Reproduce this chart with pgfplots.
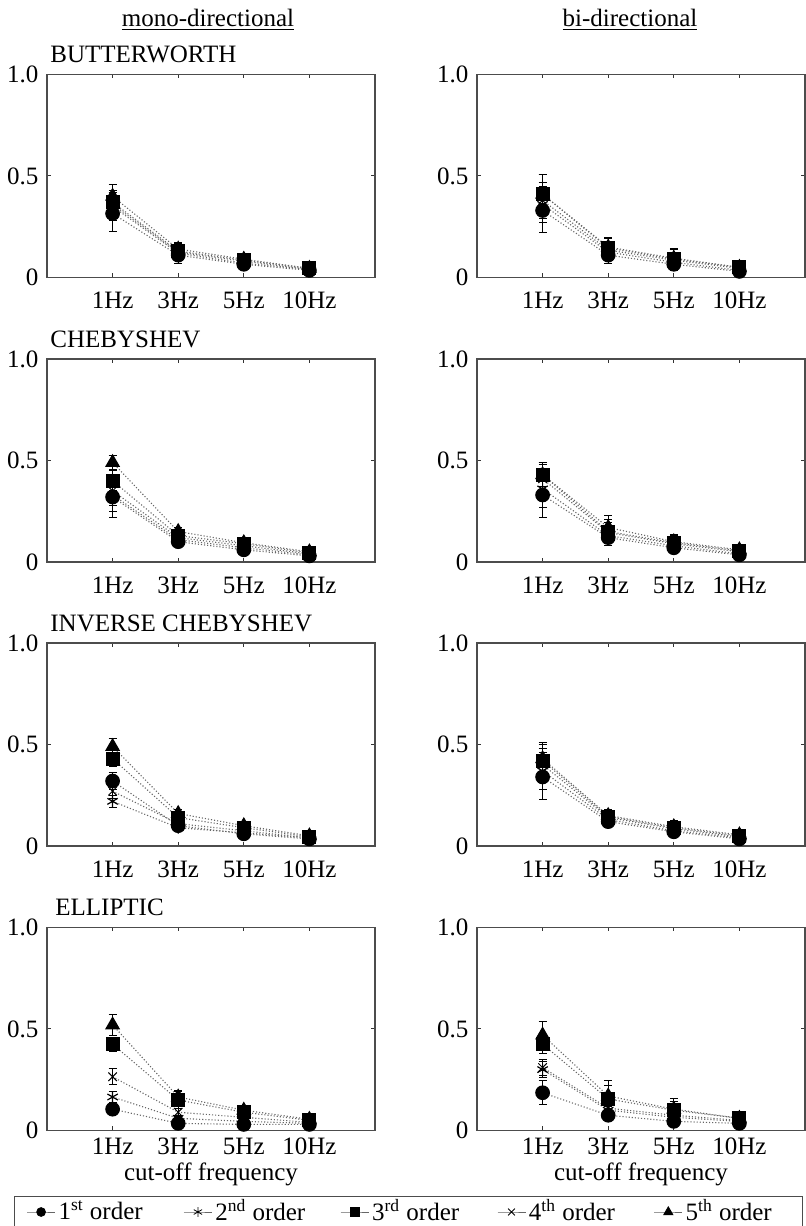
\documentclass[border=0pt]{standalone}
\usepackage{fontspec}
\setmainfont{Liberation Serif}
\usepackage{pgfplots}
\usepackage{pgfplotstable}
\pgfplotsset{compat=1.18}

% Butterworth mono
\pgfplotstableread{
x y1 e1 y2 e2 y3 e3 y4 e4 y5 e5
1 0.315 0.09 0.35 0.07 0.37 0.06 0.36 0.06 0.40 0.06
2 0.11 0.04 0.12 0.03 0.13 0.04 0.125 0.03 0.14 0.035
3 0.065 0.02 0.07 0.02 0.085 0.02 0.08 0.02 0.09 0.02
4 0.035 0.01 0.04 0.01 0.045 0.01 0.04 0.01 0.045 0.01
}\tA
% Butterworth bi
\pgfplotstableread{
x y1 e1 y2 e2 y3 e3 y4 e4 y5 e5
1 0.33 0.11 0.36 0.09 0.41 0.10 0.38 0.09 0.41 0.10
2 0.11 0.04 0.125 0.04 0.145 0.045 0.135 0.04 0.15 0.045
3 0.065 0.03 0.075 0.03 0.09 0.05 0.085 0.04 0.095 0.05
4 0.03 0.02 0.035 0.02 0.05 0.03 0.045 0.03 0.05 0.03
}\tB
% Chebyshev mono
\pgfplotstableread{
x y1 e1 y2 e2 y3 e3 y4 e4 y5 e5
1 0.32 0.10 0.33 0.08 0.40 0.05 0.35 0.07 0.49 0.035
2 0.10 0.02 0.11 0.02 0.13 0.025 0.12 0.02 0.15 0.02
3 0.06 0.015 0.07 0.015 0.09 0.02 0.08 0.015 0.095 0.02
4 0.03 0.01 0.035 0.01 0.045 0.015 0.04 0.01 0.05 0.015
}\tC
% Chebyshev bi
\pgfplotstableread{
x y1 e1 y2 e2 y3 e3 y4 e4 y5 e5
1 0.33 0.11 0.36 0.09 0.43 0.06 0.41 0.07 0.43 0.06
2 0.12 0.04 0.13 0.04 0.15 0.06 0.145 0.05 0.17 0.06
3 0.07 0.02 0.08 0.02 0.095 0.035 0.09 0.03 0.10 0.035
4 0.035 0.015 0.04 0.015 0.055 0.02 0.05 0.02 0.06 0.02
}\tD
% Inverse Chebyshev mono
\pgfplotstableread{
x y1 e1 y2 e2 y3 e3 y4 e4 y5 e5
1 0.32 0.04 0.22 0.03 0.43 0.04 0.27 0.035 0.49 0.04
2 0.10 0.02 0.09 0.02 0.14 0.025 0.11 0.02 0.16 0.02
3 0.06 0.015 0.065 0.015 0.09 0.02 0.075 0.015 0.10 0.02
4 0.035 0.01 0.04 0.01 0.045 0.015 0.04 0.01 0.05 0.015
}\tE
% Inverse Chebyshev bi
\pgfplotstableread{
x y1 e1 y2 e2 y3 e3 y4 e4 y5 e5
1 0.34 0.11 0.37 0.09 0.42 0.08 0.40 0.08 0.43 0.08
2 0.12 0.03 0.13 0.03 0.145 0.03 0.14 0.03 0.15 0.03
3 0.07 0.02 0.075 0.02 0.09 0.03 0.085 0.025 0.095 0.03
4 0.035 0.015 0.04 0.015 0.05 0.02 0.045 0.02 0.055 0.02
}\tF
% Elliptic mono
\pgfplotstableread{
x y1 e1 y2 e2 y3 e3 y4 e4 y5 e5
1 0.105 0.02 0.165 0.025 0.425 0.035 0.265 0.04 0.52 0.05
2 0.035 0.01 0.06 0.015 0.15 0.04 0.09 0.02 0.165 0.03
3 0.03 0.01 0.045 0.01 0.09 0.02 0.065 0.015 0.10 0.02
4 0.03 0.01 0.035 0.01 0.05 0.015 0.04 0.01 0.055 0.015
}\tG
% Elliptic bi
\pgfplotstableread{
x y1 e1 y2 e2 y3 e3 y4 e4 y5 e5
1 0.186 0.06 0.30 0.04 0.425 0.045 0.31 0.04 0.47 0.065
2 0.075 0.02 0.10 0.03 0.155 0.09 0.11 0.03 0.17 0.05
3 0.045 0.015 0.065 0.02 0.10 0.06 0.075 0.02 0.105 0.04
4 0.035 0.01 0.045 0.015 0.06 0.02 0.05 0.015 0.06 0.02
}\tH

\newcommand\fnt{\fontsize{12.5}{15}\selectfont}

\pgfplotsset{
  panel/.style={
    scale only axis, width=164pt, height=101.5pt,
    anchor=south west,
    xmin=0, xmax=5, ymin=0, ymax=1,
    xtick={1,2,3,4}, xticklabels={1Hz,3Hz,5Hz,10Hz},
    ytick={0,0.5,1}, yticklabels={0,0.5,1.0},
    /pgf/number format/assume math mode=true,
    tick label style={font=\fnt},
    xticklabel style={yshift=-3pt},
    tick align=inside, major tick length=2pt,
    axis line style={black!70, line width=0.7pt},
    tick style={black!80, line width=0.5pt},
    clip=false,
    label style={font=\fnt},
  },
  bottomrow/.style={
    xticklabel style={yshift=3.5pt},
    xlabel={cut-off frequency}, xlabel style={inner sep=0pt, yshift=0.5pt},
  },
  eb/.style={error bars/.cd, y dir=both, y explicit,
    error bar style={solid, black, line width=0.45pt},
    error mark options={rotate=90, mark size=2pt, black, line width=0.45pt, solid}},
  lineS/.style={black!60, densely dotted, line width=0.55pt},
  s1/.style={lineS, mark=*, mark size=3.4pt, mark options={solid, draw=black, fill=black}},
  s2/.style={lineS, mark=asterisk, mark size=3pt, mark options={solid, draw=black, line width=0.6pt}},
  s3/.style={lineS, mark=square*, mark size=3.2pt, mark options={solid, draw=black, fill=black}},
  s4/.style={lineS, mark=x, mark size=3pt, mark options={solid, draw=black, line width=0.5pt}},
  s5/.style={lineS, mark=triangle*, mark size=3.8pt, mark options={solid, draw=black, fill=black}},
}

\newcommand\plotpanel[1]{%
  \addplot[s1, eb] table[x=x, y=y1, y error=e1]{#1};
  \addplot[s2, eb] table[x=x, y=y2, y error=e2]{#1};
  \addplot[s3, eb] table[x=x, y=y3, y error=e3]{#1};
  \addplot[s4, eb] table[x=x, y=y4, y error=e4]{#1};
  \addplot[s5, eb] table[x=x, y=y5, y error=e5]{#1};
}
\newcommand\rowlabel[2][1.5pt]{%
  \node[anchor=base west, inner sep=0pt, font=\fnt] at (rel axis cs:0,1) [xshift=#1, yshift=5.75pt] {#2};}

\begin{document}
\fnt
\begin{tikzpicture}
\useasboundingbox (0,0) rectangle (402.5pt,613pt);
\node[anchor=base, inner sep=0pt] at (104pt,599.6pt) {\underline{mono-directional}};
\node[anchor=base, inner sep=0pt] at (315pt,599.6pt) {\underline{bi-directional}};

\begin{axis}[panel, at={(23.5pt,474.25pt)}]
\plotpanel{\tA}
\rowlabel{BUTTERWORTH}
\end{axis}
\begin{axis}[panel, at={(238.5pt,474.25pt)}]
\plotpanel{\tB}
\end{axis}

\begin{axis}[panel, at={(23.5pt,332pt)}]
\plotpanel{\tC}
\rowlabel{CHEBYSHEV}
\end{axis}
\begin{axis}[panel, at={(238.5pt,332pt)}]
\plotpanel{\tD}
\end{axis}

\begin{axis}[panel, at={(23.5pt,190pt)}]
\plotpanel{\tE}
\rowlabel{INVERSE CHEBYSHEV}
\end{axis}
\begin{axis}[panel, at={(238.5pt,190pt)}]
\plotpanel{\tF}
\end{axis}

\begin{axis}[panel, bottomrow, at={(23.5pt,47.75pt)},
  legend image code/.code={\draw[mark repeat=2, mark phase=2, #1] plot coordinates {(0pt,0pt) (7pt,0pt) (14pt,0pt)};},
  legend columns=5,
  legend style={at={(-0.1006,-0.3227)}, anchor=north west, draw=black!70, line width=0.7pt,
     inner xsep=6pt, inner ysep=0.5pt, font=\fnt, fill=white,
     nodes={inner xsep=1.5pt, inner ysep=1pt},
     /tikz/every even column/.append style={column sep=0pt}},
  legend cell align=left]
\addlegendimage{black!60, solid, line width=0.4pt, mark=*, mark size=2.2pt, mark options={solid, black, fill=black, line width=0.4pt}}
\addlegendimage{black!60, solid, line width=0.4pt, mark=asterisk, mark size=2.4pt, mark options={solid, black, line width=0.4pt}}
\addlegendimage{black!60, solid, line width=0.4pt, mark=square*, mark size=2.2pt, mark options={solid, black, fill=black, line width=0.4pt}}
\addlegendimage{black!60, solid, line width=0.4pt, mark=x, mark size=2.4pt, mark options={solid, black, line width=0.4pt}}
\addlegendimage{black!60, solid, line width=0.4pt, mark=triangle*, mark size=2.6pt, mark options={solid, black, fill=black, line width=0.4pt}}
\addlegendentry{\makebox[61pt][l]{1\textsuperscript{st} order}}
\addlegendentry{\makebox[61pt][l]{2\textsuperscript{nd} order}}
\addlegendentry{\makebox[61pt][l]{3\textsuperscript{rd} order}}
\addlegendentry{\makebox[61pt][l]{4\textsuperscript{th} order}}
\addlegendentry{\makebox[51pt][l]{5\textsuperscript{th} order}}
\plotpanel{\tG}
\rowlabel[4pt]{ELLIPTIC}
\end{axis}
\begin{axis}[panel, bottomrow, at={(238.5pt,47.75pt)}]
\plotpanel{\tH}
\end{axis}
\end{tikzpicture}
\end{document}
